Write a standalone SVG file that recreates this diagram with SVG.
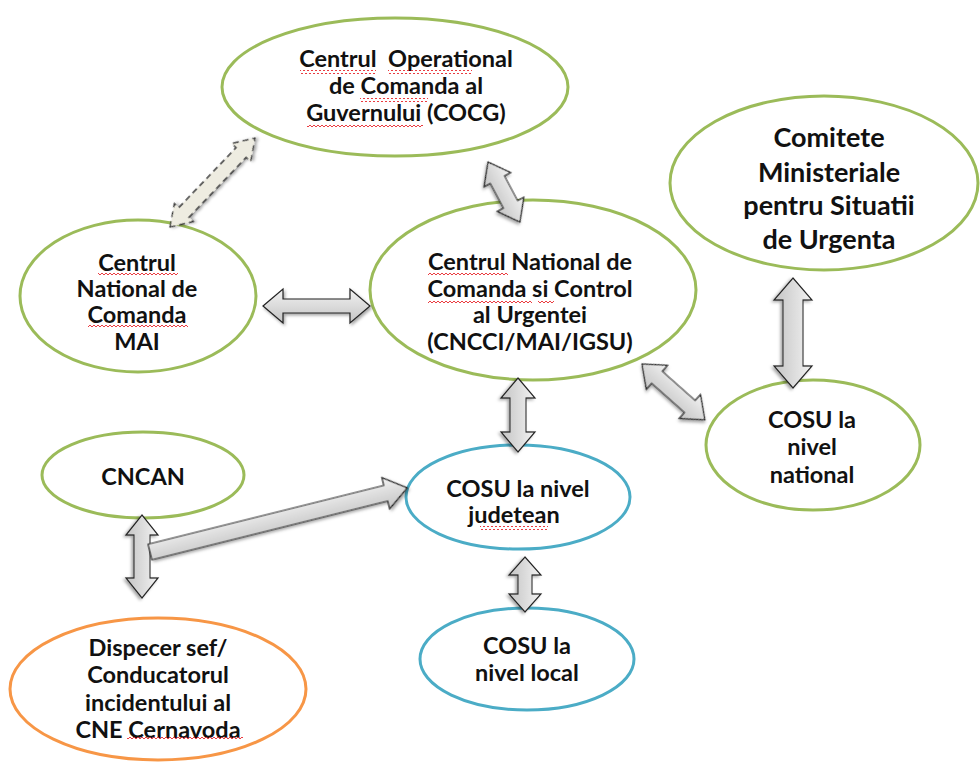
<svg xmlns="http://www.w3.org/2000/svg" width="980" height="766" viewBox="0 0 980 766">
<defs>
<linearGradient id="g" x1="0" y1="0" x2="0" y2="1"><stop offset="0" stop-color="#f2f2f2"/><stop offset="1" stop-color="#c4c4c4"/></linearGradient>
<filter id="sh" x="-30%" y="-30%" width="160%" height="160%"><feDropShadow dx="1.5" dy="2" stdDeviation="1.5" flood-color="#000" flood-opacity="0.35"/></filter>
<pattern id="sq" width="4" height="4" patternUnits="userSpaceOnUse"><path d="M0,3 L2,1 L4,3" fill="none" stroke="#e8262b" stroke-width="0.9"/></pattern>
<style>
.n{fill:#fff;stroke-width:3}
.gr{stroke:#9bbb59}.bl{stroke:#4bacc6}.or{stroke:#f79646}
.t{font-family:Lato,"Open Sans",sans-serif;font-weight:bold;font-size:23.5px;fill:#111;text-anchor:middle;white-space:pre}
.tb{font-size:27px}
.a{fill:url(#g);stroke:#222;stroke-width:1.2;filter:url(#sh)}
.d{fill:#eeece1;stroke:#333;stroke-width:1.3;stroke-dasharray:6 4;filter:url(#sh)}
</style>
</defs>
<rect width="980" height="766" fill="#fff"/>
<g id="n-cocg"><ellipse class="n gr" cx="395" cy="87" rx="173" ry="69"/>
<text class="t" x="406" y="67" xml:space="preserve">Centrul  Operational</text><text class="t" x="406" y="94">de Comanda al</text><text class="t" x="406" y="121">Guvernului (COCG)</text></g>
<g id="n-comitete"><ellipse class="n gr" cx="824" cy="183" rx="154" ry="87"/>
<text class="t tb" x="829" y="147">Comitete</text><text class="t tb" x="829" y="182">Ministeriale</text><text class="t tb" x="829" y="215">pentru Situatii</text><text class="t tb" x="829" y="249">de Urgenta</text></g>
<g id="n-mai"><ellipse class="n gr" cx="138" cy="296" rx="118" ry="76"/>
<text class="t" x="137" y="271">Centrul</text><text class="t" x="137" y="297">National de</text><text class="t" x="137" y="323">Comanda</text><text class="t" x="137" y="350">MAI</text></g>
<g id="n-cncci"><ellipse class="n gr" cx="533" cy="290" rx="163" ry="90"/>
<text class="t" x="530" y="270">Centrul National de</text><text class="t" x="530" y="297">Comanda si Control</text><text class="t" x="530" y="323">al Urgentei</text><text class="t" x="530" y="350">(CNCCI/MAI/IGSU)</text></g>
<g id="n-cosu-nat"><ellipse class="n gr" cx="813" cy="445" rx="107" ry="65"/>
<text class="t" x="812" y="428">COSU la</text><text class="t" x="812" y="455">nivel</text><text class="t" x="812" y="483">national</text></g>
<g id="n-cncan"><ellipse class="n gr" cx="143" cy="475" rx="101" ry="43"/>
<text class="t" x="143" y="485">CNCAN</text></g>
<g id="n-cosu-jud"><ellipse class="n bl" cx="518" cy="497" rx="112" ry="52"/>
<text class="t" x="518" y="497">COSU la nivel</text><text class="t" x="514" y="523">judetean</text></g>
<g id="n-cosu-loc"><ellipse class="n bl" cx="527" cy="659" rx="107" ry="51"/>
<text class="t" x="527" y="654">COSU la</text><text class="t" x="527" y="681">nivel local</text></g>
<g id="n-dispecer"><ellipse class="n or" cx="158" cy="689" rx="148" ry="71"/>
<text class="t" x="158" y="656">Dispecer sef/</text><text class="t" x="158" y="683">Conducatorul</text><text class="t" x="158" y="711">incidentului al</text><text class="t" x="158" y="738">CNE Cernavoda</text></g>
<g id="squiggles">
<rect x="300" y="70" width="76" height="4" fill="url(#sq)"/><rect x="388" y="70" width="84" height="4" fill="url(#sq)"/>
<rect x="360" y="98" width="68" height="4" fill="url(#sq)"/><rect x="307" y="124" width="116" height="4" fill="url(#sq)"/>
<rect x="98" y="272" width="80" height="4" fill="url(#sq)"/><rect x="88" y="325" width="100" height="4" fill="url(#sq)"/>
<rect x="428" y="272" width="80" height="4" fill="url(#sq)"/><rect x="428" y="300" width="104" height="4" fill="url(#sq)"/><rect x="538" y="300" width="16" height="4" fill="url(#sq)"/>
<rect x="480" y="526" width="68" height="4" fill="url(#sq)"/><rect x="127" y="735" width="116" height="4" fill="url(#sq)"/>
</g>
<g id="connectors">
<polygon class="d" transform="translate(170,227) rotate(-46.3)" points="0,0 20,-13 20,-7 103,-7 103,-13 123,0 103,13 103,7 20,7 20,13"/>
<polygon class="a" transform="translate(488,162) rotate(62)" points="0,0 20,-15 20,-8 48,-8 48,-15 68,0 48,15 48,8 20,8 20,15"/>
<polygon class="a" transform="translate(263,306)" points="0,0 20,-17 20,-7 87,-7 87,-17 107,0 87,17 87,7 20,7 20,17"/>
<polygon class="a" transform="translate(642,364) rotate(41.6)" points="0,0 20,-16 20,-8 64,-8 64,-16 84,0 64,16 64,8 20,8 20,16"/>
<polygon class="a" transform="translate(793,278) rotate(90)" points="0,0 22,-19 22,-10 88,-10 88,-19 110,0 88,19 88,10 22,10 22,19"/>
<polygon class="a" transform="translate(518,378) rotate(90)" points="0,0 20,-17 20,-8 54,-8 54,-17 74,0 54,17 54,8 20,8 20,17"/>
<polygon class="a" transform="translate(525,557) rotate(90)" points="0,0 18,-16 18,-7 37,-7 37,-16 55,0 37,16 37,7 18,7 18,16"/>
<polygon class="a" transform="translate(142,515) rotate(90)" points="0,0 20,-16 20,-8 63,-8 63,-16 83,0 63,16 63,8 20,8 20,16"/>
<polygon class="a" transform="translate(150,552) rotate(-14)" points="0,-8 243,-8 243,-16 265,0 243,16 243,8 0,8"/>
</g>
</svg>
